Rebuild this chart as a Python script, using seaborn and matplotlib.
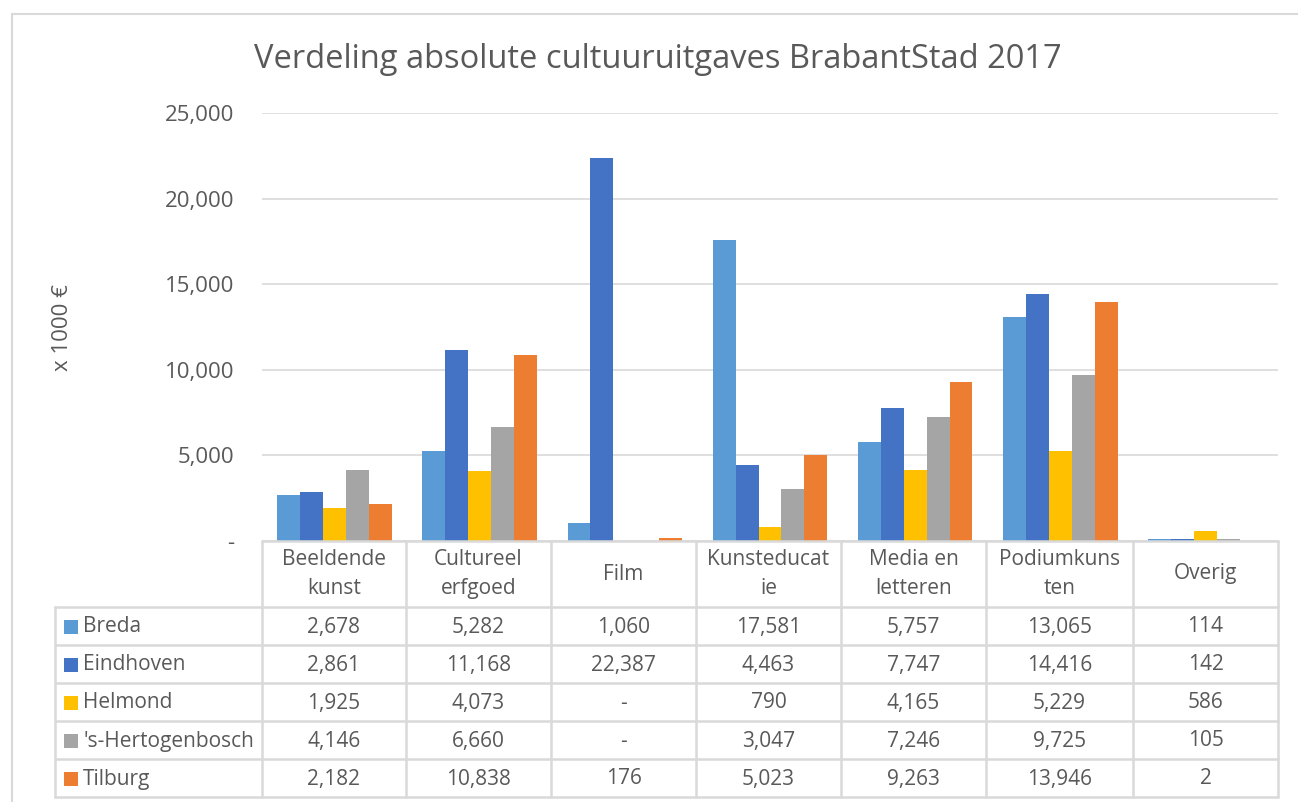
import matplotlib
matplotlib.use("Agg")
import matplotlib.pyplot as plt
import seaborn as sns
import pandas as pd
from matplotlib.lines import Line2D
from matplotlib.patches import Rectangle

# data (x 1000 euro)
categories = ["Beeldende kunst", "Cultureel erfgoed", "Film", "Kunsteducatie",
              "Media en letteren", "Podiumkunsten", "Overig"]
header_labels = ["Beeldende\nkunst", "Cultureel\nerfgoed", "Film", "Kunsteducat\nie",
                 "Media en\nletteren", "Podiumkuns\nten", "Overig"]
cities = ["Breda", "Eindhoven", "Helmond", "'s-Hertogenbosch", "Tilburg"]
breda = [2678, 5282, 1060, 17581, 5757, 13065, 114]
eindhoven = [2861, 11168, 22387, 4463, 7747, 14416, 142]
helmond = [1925, 4073, 0, 790, 4165, 5229, 586]
hertogenbosch = [4146, 6660, 0, 3047, 7246, 9725, 105]
tilburg = [2182, 10838, 176, 5023, 9263, 13946, 2]
colors = ["#5B9BD5", "#4472C4", "#FFC000", "#A5A5A5", "#ED7D31"]

series = [breda, eindhoven, helmond, hertogenbosch, tilburg]
rows = []
for city, vals in zip(cities, series):
    for cat, v in zip(categories, vals):
        rows.append({"Categorie": cat, "Stad": city, "Waarde": v})
df = pd.DataFrame(rows)

sns.set_style("white")
plt.rcParams["font.family"] = ["Open Sans", "DejaVu Sans"]
text_col = "#595959"
grid_col = "#D9D9D9"

W, H = 1298, 802
fig = plt.figure(figsize=(W / 100, H / 100), dpi=100)


def fx(x):
    return x / W


def fy(y):
    return 1 - y / H


# plot area in pixels
x0, x1 = 262, 1278
y_top, y_base = 113, 541
ax = fig.add_axes([fx(x0), fy(y_base), fx(x1) - fx(x0), fy(y_top) - fy(y_base)])

sns.barplot(data=df, x="Categorie", y="Waarde", hue="Stad", order=categories,
            hue_order=cities, palette=colors, width=0.79, linewidth=0,
            saturation=1, ax=ax, legend=False)

ax.set_ylim(0, 25000)
ax.set_xlim(-0.5, len(categories) - 0.5)
ax.set_yticks(range(0, 25001, 5000))
ax.set_yticklabels(["-"] + [f"{t:,}" for t in range(5000, 25001, 5000)],
                   fontsize=16, color=text_col)
ax.tick_params(axis="y", length=0, pad=20)
ax.set_xticks([])
ax.set_xlabel("")
ax.set_ylabel("")
ax.yaxis.grid(True, color=grid_col, linewidth=1.2)
ax.set_axisbelow(True)
for s in ax.spines.values():
    s.set_visible(False)

# title and y label
fig.text(fx(658), fy(60), "Verdeling absolute cultuuruitgaves BrabantStad 2017",
         ha="center", va="center", fontsize=23.5, color=text_col)
fig.text(fx(62), fy(328), "x 1000 €", rotation=90, ha="center", va="center",
         fontsize=16, color=text_col)

# chart frame
fig.add_artist(Rectangle((fx(12), fy(830)), fx(1320) - fx(12), fy(14) - fy(830),
                         transform=fig.transFigure, fill=False,
                         edgecolor="#D9D9D9", linewidth=1.5))

# data table below the plot
col_edges = [262, 406, 551, 696, 841, 986, 1133, 1278]
row_edges = [607, 645, 683, 721, 759, 797]
label_left = 55


def hline(y, xa, xb):
    fig.add_artist(Line2D([fx(xa), fx(xb)], [fy(y), fy(y)], color=grid_col,
                          linewidth=1.8, transform=fig.transFigure))


def vline(x, ya, yb):
    fig.add_artist(Line2D([fx(x), fx(x)], [fy(ya), fy(yb)], color=grid_col,
                          linewidth=1.8, transform=fig.transFigure))


hline(y_base, x0, x1)
for y in row_edges:
    hline(y, label_left, x1)
for x in col_edges:
    vline(x, y_base, row_edges[-1])
vline(label_left, row_edges[0], row_edges[-1])

for i, lab in enumerate(header_labels):
    cx = (col_edges[i] + col_edges[i + 1]) / 2
    fig.text(fx(cx), fy((y_base + row_edges[0]) / 2), lab, ha="center", va="center",
             fontsize=15, color=text_col, linespacing=1.45)

for r, (city, vals, c) in enumerate(zip(cities, series, colors)):
    cy = (row_edges[r] + row_edges[r + 1]) / 2 + 1
    fig.add_artist(Rectangle((fx(64), fy(cy + 7)), fx(14), 14 / H,
                             transform=fig.transFigure, facecolor=c, edgecolor="none"))
    fig.text(fx(83), fy(cy), city, ha="left", va="center", fontsize=15, color=text_col)
    for i, v in enumerate(vals):
        cx = (col_edges[i] + col_edges[i + 1]) / 2
        fig.text(fx(cx), fy(cy), f"{v:,}" if v else "-", ha="center", va="center",
                 fontsize=15, color=text_col)

fig.savefig("out.png", dpi=100)
